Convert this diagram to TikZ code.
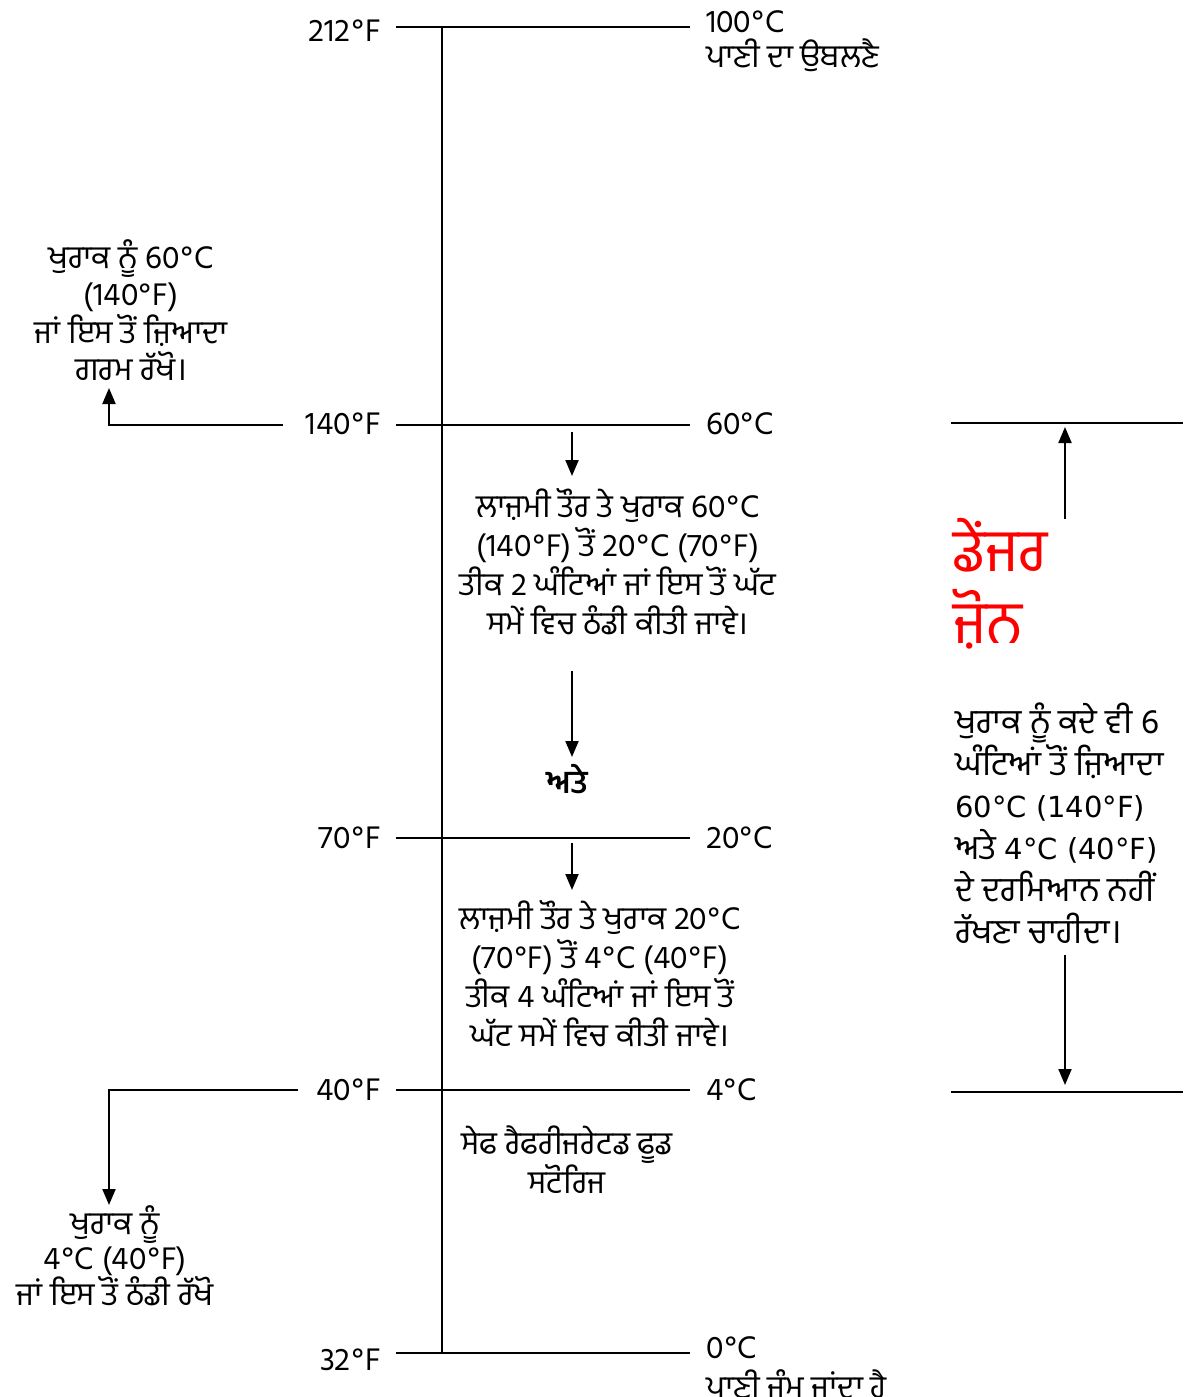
\documentclass[tikz,border=0pt]{standalone}
\usepackage{fontspec}
\setmainfont{Hind Jalandhar}[Script=Gurmukhi]
\newfontfamily\verd{DejaVu Sans}
\newcommand{\dg}{\kern1.5pt°\kern1.5pt}
\usetikzlibrary{arrows.meta}
\begin{document}
\begin{tikzpicture}[x=1pt,y=-1pt]
\tikzset{
  axisline/.style={line width=2pt},
  arr/.style={line width=2pt,-{Triangle[length=16pt,width=13pt]}},
  lbl/.style={font=\fontsize{32}{38}\selectfont, inner sep=0pt},
  txt/.style={align=center, font=\fontsize{32}{39}\selectfont, inner sep=0pt},
  rtxt/.style={align=left, font=\fontsize{34}{42}\selectfont, inner sep=0pt},
  red/.style={align=left, text=red, font=\fontsize{60}{72}\selectfont, inner sep=0pt},
}
\useasboundingbox (0,0) rectangle (1183,1397);
% axis
\coordinate (top) at (442,27);
\coordinate (bot) at (442,1353);
\draw[axisline] (top) -- (bot);
\foreach \n/\y in {a/27,b/425,c/838,d/1090,e/1353}{
  \coordinate (L\n) at (396,\y);
  \coordinate (R\n) at (690,\y);
  \draw[axisline] (L\n) -- (R\n);
}
% left labels
\node[lbl,anchor=east] (f212) at (381,31) {212\dg F};
\node[lbl,anchor=east] (f140) at (381,424) {140\dg F};
\node[lbl,anchor=east] (f70) at (381,838) {70\dg F};
\node[lbl,anchor=east] (f40) at (381,1090) {40\dg F};
\node[lbl,anchor=east] (f32) at (381,1360) {32\dg F};
% right labels
\node[lbl,anchor=west] (c100) at (706,22) {100\dg C};
\node[lbl,anchor=west] (boil) at (706,55) {ਪਾਣੀ ਦਾ ਉਬਲਣੈ};
\node[lbl,anchor=west] (c60) at (706,424) {60\dg C};
\node[lbl,anchor=west] (c20) at (706,838) {20\dg C};
\node[lbl,anchor=west] (c4) at (706,1090) {4\dg C};
\node[lbl,anchor=west] (c0) at (706,1348) {0\dg C};
\node[lbl,anchor=west] (freeze) at (706,1384) {ਪਾਣੀ ਜੰਮ ਜਾਂਦਾ ਹੈ};
% left block hot
\node[txt,font=\fontsize{32}{37.5}\selectfont] (hot) at (131,310) {ਖੁਰਾਕ ਨੂੰ 60\dg C\\(140\dg F)\\ਜਾਂ ਇਸ ਤੋਂ ਜ਼ਿਆਦਾ\\ਗਰਮ ਰੱਖੋ।};
\coordinate (h1) at (283,425);
\coordinate (h2) at (109,388);
\draw[arr] (h1) -| (h2);
% cooling 1
\coordinate (a1s) at (572,432);
\coordinate (a1e) at (572,476);
\draw[arr] (a1s) -- (a1e);
\node[txt] (cool1) at (618,562) {ਲਾਜ਼ਮੀ ਤੌਰ ਤੇ ਖੁਰਾਕ 60\dg C\\(140\dg F) ਤੋਂ 20\dg C (70\dg F)\\ਤੀਕ 2 ਘੰਟਿਆਂ ਜਾਂ ਇਸ ਤੋਂ ਘੱਟ\\ਸਮੇਂ ਵਿਚ ਠੰਡੀ ਕੀਤੀ ਜਾਵੇ।};
\coordinate (a2s) at (572,671);
\coordinate (a2e) at (572,757);
\draw[arr] (a2s) -- (a2e);
\node[lbl,font=\fontsize{32}{38}\selectfont\bfseries] (and) at (567,779) {ਅਤੇ};
% cooling 2
\coordinate (a3s) at (572,843);
\coordinate (a3e) at (572,890);
\draw[arr] (a3s) -- (a3e);
\node[txt] (cool2) at (600,974) {ਲਾਜ਼ਮੀ ਤੌਰ ਤੇ ਖੁਰਾਕ 20\dg C\\(70\dg F) ਤੋਂ 4\dg C (40\dg F)\\ਤੀਕ 4 ਘੰਟਿਆਂ ਜਾਂ ਇਸ ਤੋਂ\\ਘੱਟ ਸਮੇਂ ਵਿਚ ਕੀਤੀ ਜਾਵੇ।};
% storage
\node[txt] (store) at (567,1160) {ਸੇਫ ਰੈਫਰੀਜਰੇਟਡ ਫੂਡ\\ਸਟੋਰਿਜ};
% cold
\coordinate (k1) at (298,1090);
\coordinate (k2) at (109,1205);
\draw[arr] (k1) -| (k2);
\node[txt,font=\fontsize{32}{35}\selectfont] (cold) at (115,1256) {ਖੁਰਾਕ ਨੂੰ\\4\dg C (40\dg F)\\ਜਾਂ ਇਸ ਤੋਂ ਠੰਡੀ ਰੱਖੋ};
% danger zone
\coordinate (z1a) at (951,423);
\coordinate (z1b) at (1183,423);
\coordinate (z2a) at (951,1092);
\coordinate (z2b) at (1183,1092);
\draw[axisline] (z1a) -- (z1b);
\draw[axisline] (z2a) -- (z2b);
\coordinate (u1) at (1065,519);
\coordinate (u2) at (1065,427);
\draw[arr] (u1) -- (u2);
\node[red,anchor=west] (dz) at (953,584) {ਡੇਂਜਰ\\ਜ਼ੋਨ};
\node[rtxt,anchor=west] (never) at (955,823) {ਖੁਰਾਕ ਨੂੰ ਕਦੇ ਵੀ 6\\ਘੰਟਿਆਂ ਤੋਂ ਜ਼ਿਆਦਾ\\{\verd\fontsize{29}{42}\selectfont 60°C (140°F)}\\ਅਤੇ {\verd\fontsize{29}{42}\selectfont 4°C (40°F)}\\ਦੇ ਦਰਮਿਆਨ ਨਹੀਂ\\ਰੱਖਣਾ ਚਾਹੀਦਾ।};
\coordinate (d1) at (1065,955);
\coordinate (d2) at (1065,1085);
\draw[arr] (d1) -- (d2);
\end{tikzpicture}
\end{document}
